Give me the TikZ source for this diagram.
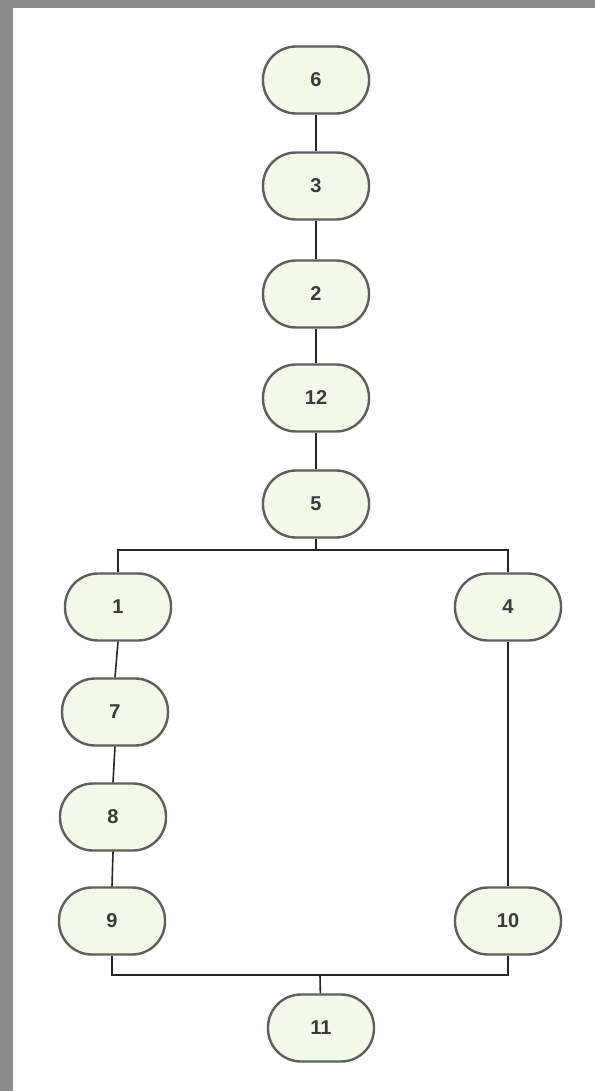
\documentclass[tikz,border=0pt]{standalone}
\usepackage{fontspec}
\setmainfont{Liberation Sans}
\usetikzlibrary{calc}

\definecolor{pagegray}{HTML}{8C8C8C}
\definecolor{boxfill}{HTML}{F2F9E9}
\definecolor{boxline}{HTML}{5E5E5E}
\definecolor{digit}{HTML}{3A3A3A}

\tikzset{
  blk/.style={draw=boxline,line width=2.4pt,fill=boxfill,rounded corners=33pt,
    minimum width=106pt,minimum height=67pt,inner sep=0pt,
    text=digit,font=\fontsize{20}{24}\selectfont\bfseries},
  wire/.style={draw=black!85,line width=1.6pt}
}

\begin{document}
\begin{tikzpicture}[x=1pt,y=-1pt]
  \useasboundingbox (0,0) rectangle (595,1091);
  \fill[pagegray] (0,0) rectangle (595,1091);
  \fill[white] (13,8) rectangle (595,1091);

  % main chain
  \node[blk] (n6)  at (316,80)  {6};
  \node[blk] (n3)  at (316,186) {3};
  \node[blk] (n2)  at (316,294) {2};
  \node[blk] (n12) at (316,398) {12};
  \node[blk] (n5)  at (316,504) {5};

  % left branch
  \node[blk] (n1) at (118,607) {1};
  \node[blk] (n7) at (115,712) {7};
  \node[blk] (n8) at (113,817) {8};
  \node[blk] (n9) at (112,921) {9};

  % right branch
  \node[blk] (n4)  at (508,607) {4};
  \node[blk] (n10) at (508,921) {10};

  \node[blk] (n11) at (321,1028) {11};

  \coordinate (split) at (316,550);
  \coordinate (join) at (320,975);

  \draw[wire] (n6) -- (n3);
  \draw[wire] (n3) -- (n2);
  \draw[wire] (n2) -- (n12);
  \draw[wire] (n12) -- (n5);
  \draw[wire] (n5) -- (split);
  \draw[wire] (n1.north) |- (split) -| (n4.north);
  \draw[wire] (n1.south) -- (n7.north);
  \draw[wire] (n7.south) -- (n8.north);
  \draw[wire] (n8.south) -- (n9.north);
  \draw[wire] (n4) -- (n10);
  \draw[wire] (n9.south) |- (join) -| (n10.south);
  \draw[wire] (join) -- (n11);
\end{tikzpicture}
\end{document}
